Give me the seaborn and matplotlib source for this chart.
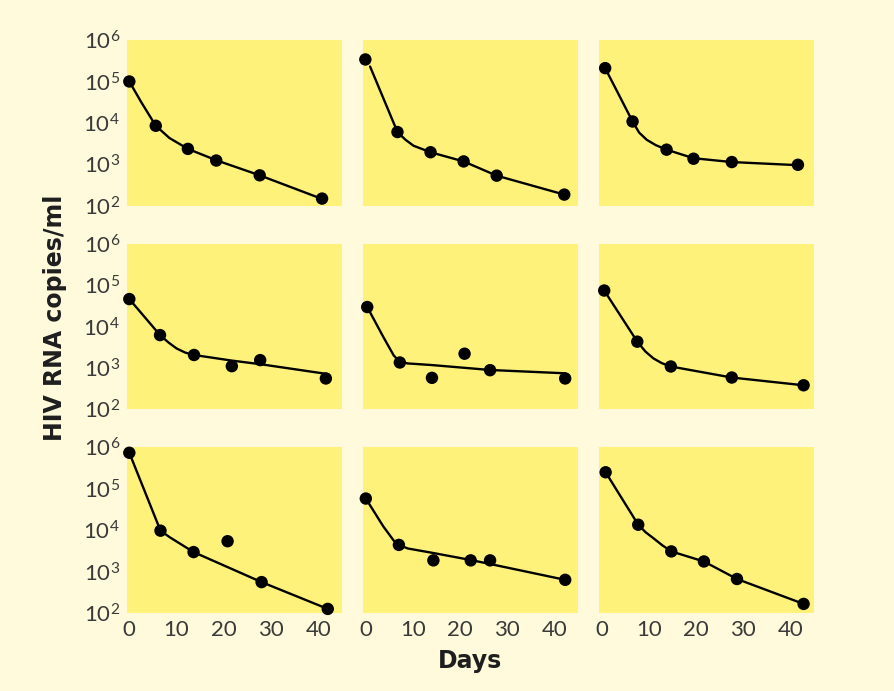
import numpy as np
import pandas as pd
import matplotlib
matplotlib.use('Agg')
import matplotlib.pyplot as plt
import seaborn as sns
from matplotlib.ticker import LogLocator, NullLocator, LogFormatterSciNotation

sns.set_style('white')
plt.rcParams['font.family'] = ['Lato', 'DejaVu Sans']
plt.rcParams['mathtext.fontset'] = 'custom'
plt.rcParams['mathtext.rm'] = 'Lato'
plt.rcParams['mathtext.it'] = 'Lato:italic'
plt.rcParams['mathtext.bf'] = 'Lato:bold'

BG = '#fefadb'
PANEL = '#fff27a'
TXT = '#3a3a3a'

# measured points (day, copies/ml) per patient, read row by row
p1_day = [0, 5.6, 12.4, 18.4, 27.6, 40.8]
p1_val = [100000, 8500, 2350, 1230, 540, 148]
p2_day = [0, 6.8, 13.8, 20.8, 27.8, 42.1]
p2_val = [340000, 6000, 1950, 1170, 530, 185]
p3_day = [0.8, 6.6, 13.8, 19.5, 27.6, 41.6]
p3_val = [210000, 10800, 2250, 1360, 1130, 970]
p4_day = [0, 6.5, 13.7, 21.7, 27.7, 41.6]
p4_val = [46000, 6200, 2050, 1100, 1540, 555]
p5_day = [0.4, 7.3, 14.1, 21.0, 26.4, 42.3]
p5_val = [29500, 1350, 575, 2200, 880, 555]
p6_day = [0.6, 7.6, 14.7, 27.6, 42.8]
p6_val = [74000, 4300, 1080, 585, 380]
p7_day = [0, 6.6, 13.6, 20.8, 28.0, 42.0]
p7_val = [740000, 9700, 2950, 5400, 555, 125]
p8_day = [0.1, 7.1, 14.4, 22.3, 26.4, 42.3]
p8_val = [58000, 4400, 1860, 1860, 1860, 630]
p9_day = [0.9, 7.8, 14.8, 21.7, 28.7, 42.8]
p9_val = [250000, 13500, 3060, 1750, 660, 165]

# fitted decay curves
c1_day = [0, 2.5, 5.6, 8.5, 12.4, 18.4, 27.6, 40.8]
c1_val = [100000, 32000, 8500, 4300, 2350, 1250, 540, 145]
c2_day = [1.0, 6.8, 8.5, 10.2, 13.8, 20.8, 27.8, 42.1]
c2_val = [230000, 6000, 3900, 2800, 1950, 1170, 530, 185]
c3_day = [0.8, 6.6, 8.0, 9.6, 11.5, 13.8, 19.5, 27.6, 41.6]
c3_val = [210000, 10800, 5800, 3900, 2900, 2250, 1400, 1130, 950]
c4_day = [0, 6.5, 8.3, 10.0, 11.8, 13.7, 21.7, 27.7, 41.6]
c4_val = [46000, 6200, 4100, 2950, 2350, 2050, 1500, 1230, 720]
c5_day = [0.4, 3.8, 6.0, 7.3, 9.0, 14.1, 26.4, 42.3]
c5_val = [29500, 5600, 2000, 1400, 1280, 1170, 890, 740]
c6_day = [0.6, 7.6, 9.3, 11.0, 12.8, 14.7, 27.6, 42.8]
c6_val = [74000, 4300, 2500, 1700, 1300, 1080, 585, 380]
c7_day = [0, 6.6, 8.5, 10.5, 13.6, 28.0, 42.0]
c7_val = [740000, 9700, 6800, 4900, 2950, 555, 125]
c8_day = [0.1, 3.8, 6.0, 7.1, 9.0, 14.4, 22.3, 26.4, 42.3]
c8_val = [58000, 12300, 5600, 4400, 3600, 2800, 1900, 1520, 630]
c9_day = [0.9, 7.8, 9.4, 11.0, 12.9, 14.8, 21.7, 28.7, 42.8]
c9_val = [250000, 13500, 8800, 6400, 4300, 3060, 1750, 660, 165]

points = [(p1_day, p1_val), (p2_day, p2_val), (p3_day, p3_val),
          (p4_day, p4_val), (p5_day, p5_val), (p6_day, p6_val),
          (p7_day, p7_val), (p8_day, p8_val), (p9_day, p9_val)]
curves = [(c1_day, c1_val), (c2_day, c2_val), (c3_day, c3_val),
          (c4_day, c4_val), (c5_day, c5_val), (c6_day, c6_val),
          (c7_day, c7_val), (c8_day, c8_val), (c9_day, c9_val)]

fig, axes = plt.subplots(3, 3, figsize=(8.94, 6.91), dpi=100, sharex=True)
fig.patch.set_facecolor(BG)
plt.subplots_adjust(left=0.142, right=0.9105, top=0.942, bottom=0.113,
                    wspace=0.098, hspace=0.23)

for i, ax in enumerate(axes.flat):
    cd = pd.DataFrame({'day': curves[i][0], 'val': curves[i][1]})
    pdf = pd.DataFrame({'day': points[i][0], 'val': points[i][1]})
    ax.set_facecolor(PANEL)
    sns.lineplot(data=cd, x='day', y='val', ax=ax, color='black', lw=1.7,
                 sort=False, zorder=2)
    sns.scatterplot(data=pdf, x='day', y='val', ax=ax, color='black', s=80,
                    edgecolor='none', zorder=3, clip_on=False)
    ax.set_yscale('log')
    ax.set_ylim(100, 1e6)
    ax.set_xlim(-0.5, 45)
    for s in ax.spines.values():
        s.set_visible(False)
    ax.set_xlabel('')
    ax.set_ylabel('')
    ax.yaxis.set_major_locator(LogLocator(base=10, numticks=10))
    ax.yaxis.set_minor_locator(NullLocator())
    ax.yaxis.set_major_formatter(LogFormatterSciNotation())
    ax.set_xticks([0, 10, 20, 30, 40])
    ax.tick_params(length=0, labelsize=16, colors=TXT, pad=5)
    if i % 3 != 0:
        ax.tick_params(labelleft=False)

fig.text(0.062, 0.54, 'HIV RNA copies/ml', rotation=90, ha='center', va='center',
         fontsize=17, fontweight='bold', color='#1e1e1e', family='DejaVu Sans')
fig.text(0.526, 0.044, 'Days', ha='center', va='center',
         fontsize=17, fontweight='bold', color='#1e1e1e', family='DejaVu Sans')

plt.savefig('out.png', dpi=100, facecolor=BG)
